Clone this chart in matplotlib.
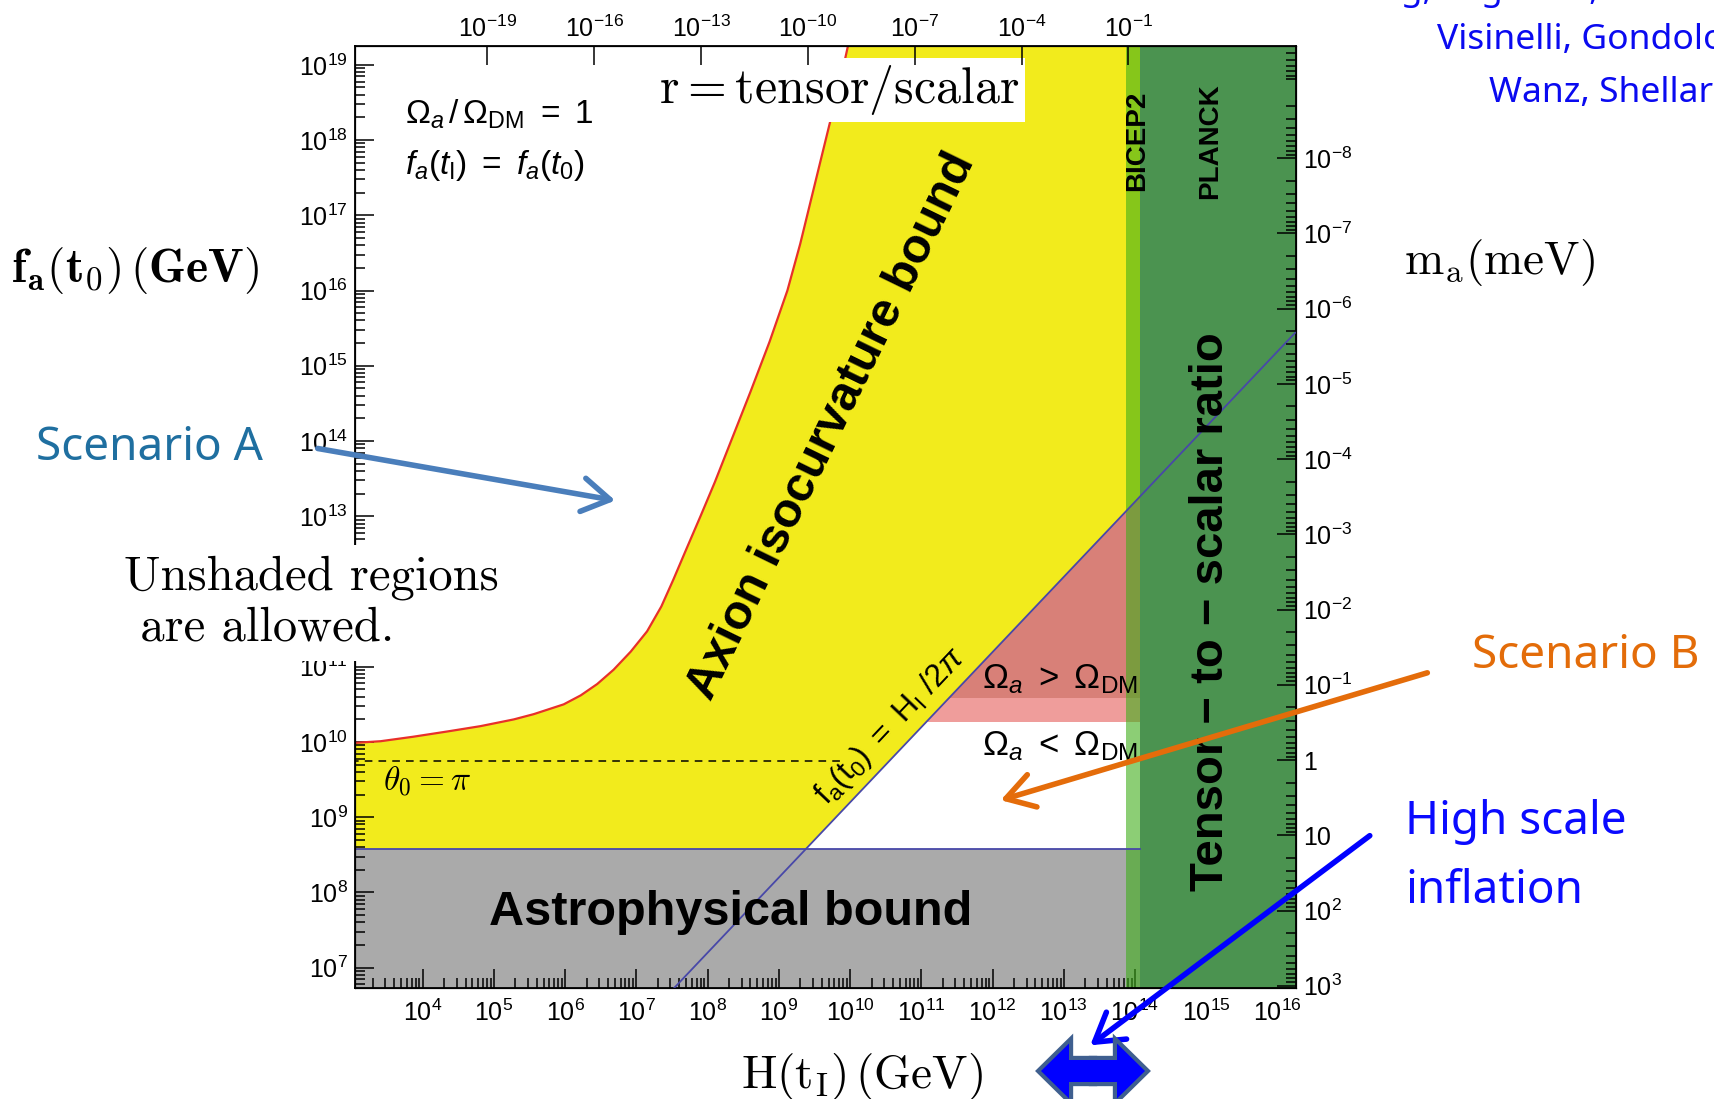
# axion parameter space: f_a vs H_I, with r and m_a on the twin axes
import numpy as np
import matplotlib
matplotlib.use('Agg')
import matplotlib.pyplot as plt
from matplotlib.ticker import LogLocator, FuncFormatter, NullFormatter
from matplotlib.patches import FancyArrowPatch, FancyArrow

plt.rcParams['font.family'] = ['Liberation Sans', 'DejaVu Sans']
plt.rcParams['mathtext.fontset'] = 'custom'
plt.rcParams['mathtext.rm'] = 'Liberation Sans'
plt.rcParams['mathtext.it'] = 'Liberation Sans:italic'
plt.rcParams['mathtext.bf'] = 'Liberation Sans:bold'

# ---- values (log10) ----
# isocurvature bound (red curve)
iso_logH = [3.0, 3.41, 3.87, 4.35, 4.81, 5.28, 5.56, 5.98, 6.22, 6.45, 6.68, 6.92, 7.15,
            7.35, 7.52, 7.70, 7.90, 8.10, 8.35, 8.60, 8.87, 9.12, 9.30, 9.45, 9.60, 9.74,
            9.87, 9.97]
iso_logf = [9.985, 10.01, 10.07, 10.14, 10.21, 10.30, 10.37, 10.50, 10.62, 10.77, 10.96,
            11.20, 11.47, 11.80, 12.16, 12.56, 13.00, 13.45, 14.05, 14.65, 15.32, 16.00,
            16.62, 17.20, 17.78, 18.32, 18.82, 19.25]
# f_a(t0) = H_I / 2pi line, end points
diag_logH = [7.53, 16.26]
diag_logf = [6.73, 15.45]
astro_logf = 8.58               # astrophysical bound
relic_logf = [10.27, 10.59]     # light / dark pink lower edges
theta_logf = 9.75               # theta_0 = pi dashed line
theta_logH_end = 9.88
bicep_logH = [13.87, 14.07]
planck_logH = 14.07

H_lim = [3.05, 16.26]
f_lim = [6.73, 19.25]
r_ref = (13.907, -1.0)          # r = 0.1 at this log H, r ~ H^2
ma_fa = 9.76                    # log10(m_a[meV] * f_a[GeV])

r_ticks = [-19, -16, -13, -10, -7, -4, -1]
ma_ticks = list(range(-8, 4))

W, H = 1714, 1099
fig = plt.figure(figsize=(W / 100, H / 100), dpi=100)
ax = fig.add_axes([355 / W, 1 - 988 / H, (1296 - 355) / W, (988 - 46) / H])
ax.set_xscale('log')
ax.set_yscale('log')
ax.set_xlim(10 ** H_lim[0], 10 ** H_lim[1])
ax.set_ylim(10 ** f_lim[0], 10 ** f_lim[1])


def p10(v):
    return 10 ** np.asarray(v, dtype=float)


def diag_H_at(logf):
    return np.interp(logf, diag_logf, diag_logH)


def diag_f_at(logH):
    return np.interp(logH, diag_logH, diag_logf)


H_da = diag_H_at(astro_logf)
f_dp = diag_f_at(planck_logH)

# yellow: isocurvature excluded
yx = iso_logH + [planck_logH, planck_logH, H_da, iso_logH[0]]
yy = iso_logf + [f_lim[1] + 1, f_dp, astro_logf, astro_logf]
ax.fill(p10(yx), p10(yy), color='#f2eb1c', lw=0, zorder=1)

# pink: overclosure
H_r0, H_r1 = diag_H_at(relic_logf[0]), diag_H_at(relic_logf[1])
ax.fill(p10([H_r1, planck_logH, planck_logH]),
        p10([relic_logf[1], relic_logf[1], f_dp]), color='#d88078', lw=0, zorder=1)
ax.fill(p10([H_r0, planck_logH, planck_logH, H_r1]),
        p10([relic_logf[0], relic_logf[0], relic_logf[1], relic_logf[1]]),
        color='#ef9d9b', lw=0, zorder=1)

# gray: astrophysical bound
ax.fill_between(p10([iso_logH[0], planck_logH]), 1e5, 10 ** astro_logf,
                color='#aaaaaa', lw=0, zorder=1)

# Planck + BICEP2
ax.axvspan(10 ** planck_logH, 1e18, color='#4b9350', lw=0, zorder=2)
ax.axvspan(10 ** bicep_logH[0], 10 ** bicep_logH[1], color='#3fae1a', alpha=0.6,
           lw=0, zorder=2)

# lines
ax.plot(p10(iso_logH), p10(iso_logf), color='#e8302a', lw=1.6, zorder=3)
ax.plot(p10(diag_logH), p10(diag_logf), color='#4848a8', lw=1.3, zorder=3)
ax.plot(p10([iso_logH[0], planck_logH]), p10([astro_logf, astro_logf]),
        color='#4848a8', lw=1.3, zorder=3)
ax.plot(p10([iso_logH[0], theta_logH_end]), p10([theta_logf, theta_logf]),
        color='k', lw=1.1, ls=(0, (5, 4)), zorder=3)

# axes styling
ax.xaxis.set_major_locator(LogLocator(base=10, numticks=100))
ax.xaxis.set_minor_locator(LogLocator(base=10, subs=np.arange(2, 10), numticks=100))
ax.yaxis.set_major_locator(LogLocator(base=10, numticks=100))
ax.yaxis.set_minor_locator(LogLocator(base=10, subs=np.arange(2, 10), numticks=100))
ax.xaxis.set_minor_formatter(NullFormatter())
ax.yaxis.set_minor_formatter(NullFormatter())
ax.tick_params(which='both', direction='in', top=False, right=False, labelsize=18, width=1.1)
ax.tick_params(which='major', length=14)
ax.tick_params(which='minor', length=7)
ax.tick_params(axis='y', pad=5)
ax.tick_params(axis='x', pad=8)
for s in ax.spines.values():
    s.set_linewidth(1.3)

# top axis: r = tensor/scalar
axt = ax.twiny()
axt.set_xscale('log')
axt.set_xlim(10 ** (2 * (H_lim[0] - r_ref[0]) + r_ref[1]),
             10 ** (2 * (H_lim[1] - r_ref[0]) + r_ref[1]))
axt.set_xticks(p10(r_ticks))
axt.xaxis.set_minor_locator(matplotlib.ticker.NullLocator())
axt.tick_params(which='both', direction='in', labelsize=18, length=14, width=1.1, pad=3)

# right axis: m_a (meV)
axr = ax.twinx()
axr.set_yscale('log')
axr.set_ylim(10 ** (ma_fa - f_lim[0]), 10 ** (ma_fa - f_lim[1]))
axr.set_yticks(p10(ma_ticks))
axr.yaxis.set_minor_locator(LogLocator(base=10, subs=np.arange(2, 10), numticks=100))
axr.yaxis.set_minor_formatter(NullFormatter())


def ma_fmt(v, pos):
    k = int(round(np.log10(v)))
    if k == 0:
        return '1'
    if k == 1:
        return '10'
    return r'$\mathdefault{10^{%d}}$' % k


axr.yaxis.set_major_formatter(FuncFormatter(ma_fmt))
axr.tick_params(which='both', direction='in', labelsize=18, width=1.1, pad=5)
axr.tick_params(which='major', length=14)
axr.tick_params(which='minor', length=7)

# in-plot labels
ax.text(10 ** 9.85, 10 ** 18.67, r'$\mathrm{r = tensor/scalar}$', math_fontfamily='cm',
        fontsize=36, ha='center', va='center', zorder=6,
        bbox=dict(boxstyle='square,pad=0.1', fc='white', ec='none'))
ax.text(10 ** 3.75, 10 ** 18.34, r'$\Omega_a\,/\,\Omega_{\rm DM}\ =\ 1$', fontsize=24,
        ha='left', va='center', zorder=6)
ax.text(10 ** 3.75, 10 ** 17.66, r'$f_a(t_{\rm I})\ =\ f_a(t_0)$', fontsize=24,
        ha='left', va='center', zorder=6)
ax.text(10 ** 9.74, 10 ** 14.2, 'Axion isocurvature bound', fontsize=35, fontweight='bold',
        rotation=64, rotation_mode='anchor', ha='center', va='center', zorder=6)
ax.text(10 ** 14.03, 10 ** 17.99, 'BICEP2', fontsize=20, fontweight='bold', rotation=90,
        ha='center', va='center', zorder=6)
ax.text(10 ** 15.05, 10 ** 17.99, 'PLANCK', fontsize=20, fontweight='bold', rotation=90,
        ha='center', va='center', zorder=6)
ax.text(10 ** 15.07, 10 ** 11.73, 'Tensor \u2212 to \u2212 scalar ratio', fontsize=34,
        fontweight='bold', rotation=90, ha='center', va='center', zorder=6)
ax.text(10 ** 8.32, 10 ** 7.73, 'Astrophysical bound', fontsize=35, fontweight='bold',
        ha='center', va='center', zorder=6)
ax.text(10 ** 3.45, 10 ** 9.485, r'$\theta_0 = \pi$', math_fontfamily='cm', fontsize=24,
        ha='left', va='center', zorder=6)
ax.text(10 ** 10.57, 10 ** 10.2, r'$\mathrm{f_a(t_0)\ =\ H_I\ /2}\pi$', fontsize=23,
        rotation=46.5, rotation_mode='anchor', ha='center', va='center', zorder=6)
ax.text(10 ** 12.95, 10 ** 10.83, r'$\Omega_a\ >\ \Omega_{\rm DM}$', fontsize=25,
        ha='center', va='center', zorder=6)
ax.text(10 ** 12.95, 10 ** 9.94, r'$\Omega_a\ <\ \Omega_{\rm DM}$', fontsize=25,
        ha='center', va='center', zorder=6)


# figure-level labels and annotations (positions in figure pixels)
def fp(x, y):
    return x / W, 1 - y / H


fig.text(*fp(135, 271), r'$\mathbf{f_a(t_0)\,(GeV)}$', math_fontfamily='cm', fontsize=34,
         ha='center', va='center')
fig.text(*fp(1499, 262), r'$\mathrm{m_a(meV)}$', math_fontfamily='cm', fontsize=34,
         ha='center', va='center')
fig.text(*fp(862, 1076), r'$\mathrm{H(t_I)\,(GeV)}$', math_fontfamily='cm', fontsize=34,
         ha='center', va='center')
fig.text(*fp(124, 555), 'Unshaded regions\n are allowed.', family='cmr10', fontsize=35,
         ha='left', va='top', linespacing=1.2,
         bbox=dict(boxstyle='square,pad=0.2', fc='white', ec='none'))

fig.text(*fp(36, 448), 'Scenario A', family='Noto Sans', fontsize=33, color='#1f6fa0',
         ha='left', va='center')
fig.text(*fp(1472, 656), 'Scenario B', family='Noto Sans', fontsize=33, color='#e36c09',
         ha='left', va='center')
fig.text(*fp(1405, 822), 'High scale', family='Noto Sans', fontsize=33, color='#0a0aff',
         ha='left', va='center')
fig.text(*fp(1405, 891), 'inflation', family='Noto Sans', fontsize=33, color='#0a0aff',
         ha='left', va='center')
fig.text(*fp(1254, 0), 'Hertzberg, Tegmark, Wilczek', family='Noto Sans', fontsize=25.5,
         color='#0a0af0', ha='left', va='baseline')
fig.text(*fp(1437, 40), 'Visinelli, Gondolo', family='Noto Sans', fontsize=25.5,
         color='#0a0af0', ha='left', va='center')
fig.text(*fp(1489, 93), 'Wanz, Shellard', family='Noto Sans', fontsize=25.5,
         color='#0a0af0', ha='left', va='center')

arrows = [((315, 448), (618, 501), '#4a7ebb'),
          ((1430, 672), (998, 801), '#e46c0a'),
          ((1372, 834), (1088, 1047), '#0000ff')]
for a, b, c in arrows:
    fig.add_artist(FancyArrowPatch(fp(*a), fp(*b), transform=fig.transFigure,
                                   arrowstyle='->,head_length=0.9,head_width=0.55',
                                   mutation_scale=22, lw=4, color=c, zorder=8))

# double arrow
cx, cy = fp(1093, 1071)
for lw, ec, z in [(6, '#3f5f8f', 8), (0, 'none', 9)]:
    for d in (1, -1):
        fig.add_artist(FancyArrow(cx, cy, d * 52 / W, 0, width=22 / H, head_width=55 / H,
                                  head_length=28 / W, length_includes_head=True,
                                  transform=fig.transFigure, fc='#0000ff', ec=ec, lw=lw,
                                  zorder=z))

fig.savefig('out.png', dpi=100)
